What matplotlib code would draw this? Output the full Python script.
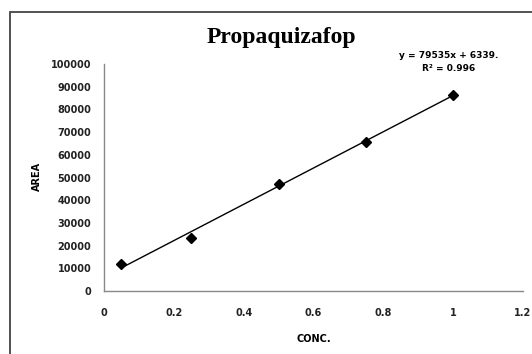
import numpy as np
import matplotlib
matplotlib.use("Agg")
import matplotlib.pyplot as plt
from matplotlib.patches import Rectangle

# kalibreringsdata
conc = [0.05, 0.25, 0.5, 0.75, 1.0]
area = [12000, 23300, 47300, 65800, 86500]
xticks = [0, 0.2, 0.4, 0.6, 0.8, 1, 1.2]
yticks = [0, 10000, 20000, 30000, 40000, 50000, 60000, 70000, 80000, 90000, 100000]
eq_text = "y = 79535x + 6339.\nR² = 0.996"

W, H = 532, 354
fig = plt.figure(figsize=(W/100, H/100), dpi=100)
ax = fig.add_axes([104/W, 1-291/H, (523-104)/W, (291-64)/H])

# ramme om hele figuren (kun venstre og top synlig)
fig.patches.append(Rectangle((10/W, -0.1), 1.2, 1-12/H+0.1, transform=fig.transFigure,
                             fill=False, edgecolor="#444444", linewidth=1.3))

# trendlinje
par = np.polyfit(conc, area, 1)
xl = np.array([min(conc), max(conc)])
ax.plot(xl, np.polyval(par, xl), color="black", linewidth=1.0)
ax.plot(conc, area, linestyle="none", marker="D", markersize=5.5, color="black")

ax.set_xlim(0, 1.2)
ax.set_ylim(0, 100000)
ax.set_xticks(xticks)
ax.set_xticklabels([f"{t:g}" for t in xticks])
ax.set_yticks(yticks)
ax.set_yticklabels([str(t) for t in yticks])
ax.tick_params(length=0, labelsize=7, colors="#222222")
ax.tick_params(axis="x", pad=12)
ax.tick_params(axis="y", pad=9)
for lab in ax.get_xticklabels() + ax.get_yticklabels():
    lab.set_fontweight("bold")

for s in ["top", "right"]:
    ax.spines[s].set_visible(False)
for s in ["left", "bottom"]:
    ax.spines[s].set_color("#888888")
    ax.spines[s].set_linewidth(1.0)

fig.text(281/W, 1-37/H, "Propaquizafop", fontsize=17, fontweight="bold",
         family="Liberation Serif", ha="center", va="center")
fig.text(449/W, 1-62/H, eq_text, fontsize=6.5, fontweight="bold",
         ha="center", va="center", linespacing=1.7)
fig.text(314/W, 1-339/H, "CONC.", fontsize=7, fontweight="bold", ha="center", va="center")
fig.text(37/W, 1-176/H, "AREA", fontsize=7, fontweight="bold", ha="center", va="center",
         rotation=90)

fig.savefig("out.png", dpi=100)
